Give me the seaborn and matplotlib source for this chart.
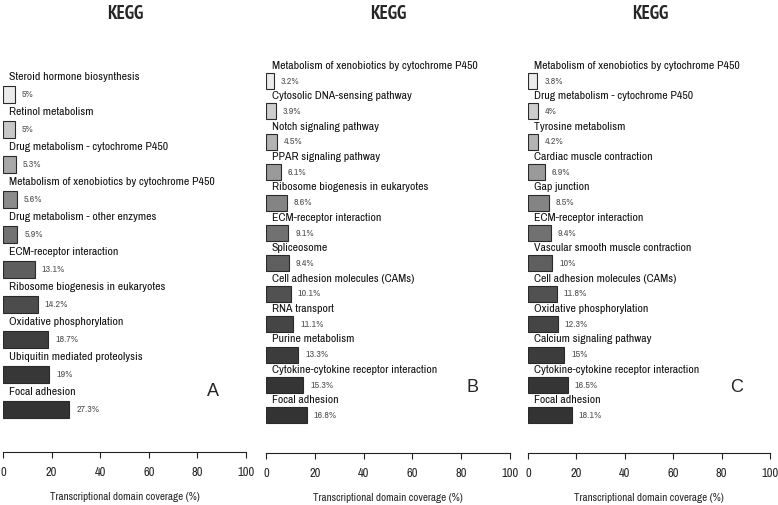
import numpy as np
import pandas as pd
import matplotlib
matplotlib.use("Agg")
import matplotlib.pyplot as plt
import seaborn as sns
from matplotlib import font_manager
from matplotlib.font_manager import FontProperties

sns.set_style("white")
plt.rcParams["font.family"] = ["Liberation Sans", "DejaVu Sans"]

# ---------------- data ----------------
cats_a = ["Steroid hormone biosynthesis", "Retinol metabolism",
          "Drug metabolism - cytochrome P450",
          "Metabolism of xenobiotics by cytochrome P450",
          "Drug metabolism - other enzymes", "ECM-receptor interaction",
          "Ribosome biogenesis in eukaryotes", "Oxidative phosphorylation",
          "Ubiquitin mediated proteolysis", "Focal adhesion"]
vals_a = [5, 5, 5.3, 5.6, 5.9, 13.1, 14.2, 18.7, 19, 27.3]

cats_b = ["Metabolism of xenobiotics by cytochrome P450",
          "Cytosolic DNA-sensing pathway", "Notch signaling pathway",
          "PPAR signaling pathway", "Ribosome biogenesis in eukaryotes",
          "ECM-receptor interaction", "Spliceosome",
          "Cell adhesion molecules (CAMs)", "RNA transport",
          "Purine metabolism", "Cytokine-cytokine receptor interaction",
          "Focal adhesion"]
vals_b = [3.2, 3.9, 4.5, 6.1, 8.6, 9.1, 9.4, 10.1, 11.1, 13.3, 15.3, 16.8]

cats_c = ["Metabolism of xenobiotics by cytochrome P450",
          "Drug metabolism - cytochrome P450", "Tyrosine metabolism",
          "Cardiac muscle contraction", "Gap junction",
          "ECM-receptor interaction", "Vascular smooth muscle contraction",
          "Cell adhesion molecules (CAMs)", "Oxidative phosphorylation",
          "Calcium signaling pathway",
          "Cytokine-cytokine receptor interaction", "Focal adhesion"]
vals_c = [3.8, 4, 4.2, 6.9, 8.5, 9.4, 10, 11.8, 12.3, 15, 16.5, 18.1]

panel_letters = ["A", "B", "C"]
title = "KEGG"
xlabel = "Transcriptional domain coverage (%)"
xticks = [0, 20, 40, 60, 80, 100]

# ---------------- fonts: prefer an Arial-Narrow-like sans ----------------
PRIO = ["Liberation Sans Narrow", "Arial Narrow", "Archivo Narrow",
        "PT Sans Narrow", "Roboto Condensed", "Fira Sans Condensed",
        "Encode Sans Condensed", "Asap Condensed"]

def find_font(weight):
    entries = font_manager.fontManager.ttflist
    for fam in PRIO:
        for f in entries:
            fn = f.fname.split("/")[-1]
            if f.name != fam or f.style != "normal" or "italic" in fn.lower():
                continue
            w = f.weight if isinstance(f.weight, int) else 400
            if weight == 700 and ("[" in fn or w != 700):
                continue
            if weight == 400 and w != 400:
                continue
            return f.fname
    return None

reg_path = find_font(400)
bold_path = find_font(700)

def fp(size, bold=False):
    path = bold_path if bold else reg_path
    if path:
        return FontProperties(fname=path, size=size)
    return FontProperties(family=["Liberation Sans", "DejaVu Sans"], size=size,
                          weight="bold" if bold else "normal")

# ---------------- layout ----------------
W, H = 778, 505
fig = plt.figure(figsize=(W / 100, H / 100), dpi=100)
renderer = fig.canvas.get_renderer()

def size_for(text, target_px, bold=False):
    t = fig.text(0, 0, text, fontproperties=fp(10, bold))
    w = t.get_window_extent(renderer).width
    t.remove()
    return 10 * target_px / w

s_cat = size_for("Steroid hormone biosynthesis", 108) * 1.2
s_xlab = size_for(xlabel, 134) * 1.12
s_tick = size_for("100", 13) * 1.3
s_pct = size_for("27.3%", 21) * 1.1
s_title = size_for("KEGG", 36, bold=True)

panels = [
    dict(cats=cats_a, vals=vals_a, x0=3, x1=246, c0=94, step=35.0, axis_y=452,
         title_x=125, letter=(213, 391)),
    dict(cats=cats_b, vals=vals_b, x0=266, x1=510, c0=81, step=30.4, axis_y=453,
         title_x=388, letter=(472, 388)),
    dict(cats=cats_c, vals=vals_c, x0=528, x1=770, c0=81, step=30.4, axis_y=453,
         title_x=650, letter=(737, 388)),
]
TOP = 30

def grays(n):
    t = np.linspace(0, 1, n)
    v = 0.2 + 0.72 * (1 - t) ** 1.8
    return [(x, x, x) for x in v]

for p, letter in zip(panels, panel_letters):
    n = len(p["cats"])
    df = pd.DataFrame({"cat": p["cats"], "val": p["vals"]})
    ax = fig.add_axes([p["x0"] / W, 1 - p["axis_y"] / H,
                       (p["x1"] - p["x0"]) / W, (p["axis_y"] - TOP) / H])
    bar_w = (17.0 if n == 10 else 16.0) / p["step"]
    sns.barplot(data=df, y="cat", x="val", hue="cat", palette=grays(n),
                orient="h", width=bar_w, edgecolor="#2a2a2a", linewidth=0.8,
                legend=False, ax=ax, dodge=False)
    ax.set_xlim(0, 100)
    ax.set_ylim((p["axis_y"] - p["c0"]) / p["step"], (TOP - p["c0"]) / p["step"])
    for s in ["top", "right", "left"]:
        ax.spines[s].set_visible(False)
    ax.spines["bottom"].set_color("#222222")
    ax.spines["bottom"].set_linewidth(0.8)
    ax.set_yticks([])
    ax.set_ylabel("")
    ax.set_xticks(xticks)
    ax.set_xticklabels([str(t) for t in xticks], fontproperties=fp(s_tick))
    ax.tick_params(axis="x", direction="out", length=4, width=0.8,
                   color="#222222", pad=7, bottom=True)
    ax.set_xlabel(xlabel, fontproperties=fp(s_xlab), labelpad=10)
    ax.patch.set_alpha(0)
    for i, (c, v) in enumerate(zip(p["cats"], p["vals"])):
        ax.text(2.3, i - 0.5, c, fontproperties=fp(s_cat), ha="left",
                va="center", color="#111111")
        ax.annotate(f"{v:g}%", xy=(v, i), xytext=(5, 0),
                    textcoords="offset points", fontproperties=fp(s_pct),
                    ha="left", va="center", color="#555555")
    fig.text(p["title_x"] / W, 1 - 14 / H, title,
             fontproperties=fp(s_title, bold=True), ha="center", va="center")
    lx, ly = p["letter"]
    fig.text(lx / W, 1 - ly / H, letter, fontsize=13, ha="center",
             va="center", family=["Liberation Sans", "DejaVu Sans"])

fig.savefig("out.png", dpi=100)
